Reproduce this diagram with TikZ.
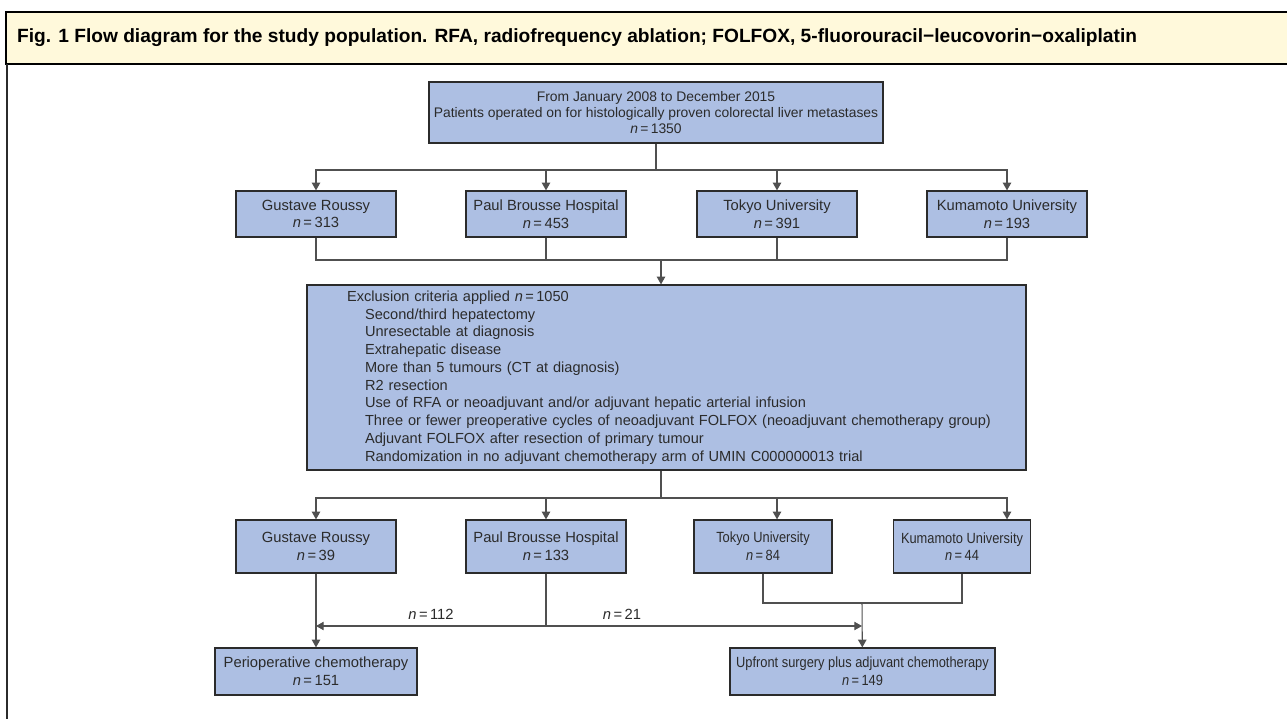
\documentclass[tikz,border=0pt]{standalone}
\usepackage{fontspec}
\setmainfont{Liberation Sans}
\newfontfamily\narrowsans[FakeStretch=0.87]{Liberation Sans}
\usetikzlibrary{arrows.meta}
\definecolor{boxblue}{HTML}{ADBFE3}
\definecolor{capyellow}{HTML}{FFF9DB}
\definecolor{inkgray}{HTML}{2B2B2B}
\definecolor{wiregray}{HTML}{505050}
\newcommand{\nval}[1]{{\itshape n}\,=\,#1}
\newcommand{\lead}{\hspace*{0.8cm}}
\newcommand{\sub}{\hspace*{1.16cm}}
\begin{document}
\begin{tikzpicture}[x=0.02cm,y=-0.02cm,
  box/.style={draw=inkgray, fill=boxblue, line width=0.7pt, text=inkgray, align=center, inner sep=0pt, font=\fontsize{8.4}{10}\selectfont},
  narrow/.style={font=\narrowsans\fontsize{8.4}{10}\selectfont},
  wire/.style={draw=wiregray, line width=0.6pt},
  arr/.style={wire, -{Triangle[length=4.4pt,width=4.8pt]}},
  lbl/.style={text=inkgray, font=\fontsize{8.4}{10}\selectfont}]
\useasboundingbox (0,0) rectangle (1287,719);
\fill[white] (0,0) rectangle (1287,719);
% caption bar and frame
\draw[fill=capyellow, line width=0.8pt] (6,12) rectangle (1300,64);
\draw[line width=1.1pt, draw=inkgray] (7,64) -- (7,719);
\node[anchor=west, font=\fontsize{10.9}{12}\selectfont\bfseries] (cap) at (11,38) {Fig. 1 Flow diagram for the study population. RFA, radiofrequency ablation; FOLFOX, 5-fluorouracil−leucovorin−oxaliplatin};
% boxes
\node[box, minimum width=9.08cm, minimum height=1.22cm, font=\fontsize{7.9}{9.1}\selectfont] (src) at (656,112.5) {From January 2008 to December 2015\\Patients operated on for histologically proven colorectal liver metastases\\\nval{1350}};
\node[box, minimum width=3.2cm, minimum height=0.92cm] (gr1) at (316,214) {Gustave Roussy\\\nval{313}};
\node[box, minimum width=3.2cm, minimum height=0.92cm] (pb1) at (546,214) {Paul Brousse Hospital\\\nval{453}};
\node[box, minimum width=3.2cm, minimum height=0.92cm] (tk1) at (777,214) {Tokyo University\\\nval{391}};
\node[box, minimum width=3.2cm, minimum height=0.92cm] (km1) at (1007,214) {Kumamoto University\\\nval{193}};
\node[box, minimum width=14.38cm, minimum height=3.7cm, align=left, text width=14.38cm, font=\fontsize{8.3}{10.1}\selectfont] (excl) at (666.5,377.5) {\lead Exclusion criteria applied \nval{1050}\\
\sub Second/third hepatectomy\\
\sub Unresectable at diagnosis\\
\sub Extrahepatic disease\\
\sub More than 5 tumours (CT at diagnosis)\\
\sub R2 resection\\
\sub Use of RFA or neoadjuvant and/or adjuvant hepatic arterial infusion\\
\sub Three or fewer preoperative cycles of neoadjuvant FOLFOX (neoadjuvant chemotherapy group)\\
\sub Adjuvant FOLFOX after resection of primary tumour\\
\sub Randomization in no adjuvant chemotherapy arm of UMIN C000000013 trial};
\node[box, minimum width=3.2cm, minimum height=1.06cm] (gr2) at (316,546.5) {Gustave Roussy\\\nval{39}};
\node[box, minimum width=3.2cm, minimum height=1.06cm] (pb2) at (546,546.5) {Paul Brousse Hospital\\\nval{133}};
\node[box, narrow, minimum width=2.76cm, minimum height=1.06cm] (tk2) at (763,546.5) {Tokyo University\\\nval{84}};
\node[box, narrow, minimum width=2.74cm, minimum height=1.06cm] (km2) at (962,546.5) {Kumamoto University\\\nval{44}};
\node[box, minimum width=4.04cm, minimum height=0.94cm] (peri) at (316,671.5) {Perioperative chemotherapy\\\nval{151}};
\node[box, narrow, minimum width=5.3cm, minimum height=0.94cm] (upf) at (862.5,671.5) {Upfront surgery plus adjuvant chemotherapy\\\nval{149}};
% junctions
\coordinate (j0) at (656,170);
\coordinate (j1) at (661,260);
\coordinate (j2) at (661,498);
\coordinate (j3) at (546,626);
\coordinate (l3) at (316,626);
\coordinate (r3) at (862,626);
\coordinate (j4) at (862,603);
% connectors
\draw[wire](src) -- (j0);
\draw[arr](j0) -| (gr1);
\draw[arr](j0) -| (pb1);
\draw[arr](j0) -| (tk1);
\draw[arr](j0) -| (km1);
\draw[wire](gr1) |- (j1);
\draw[wire](pb1) |- (j1);
\draw[wire](tk1) |- (j1);
\draw[wire](km1) |- (j1);
\draw[arr](j1) -- (j1 |- excl.north);
\draw[wire](j2 |- excl.south) -- (j2);
\draw[arr](j2) -| (gr2);
\draw[arr](j2) -| (pb2);
\draw[arr](j2) -| (tk1 |- tk2.north);
\draw[arr](j2) -| (km1 |- km2.north);
\draw[arr](gr2) -- (peri);
\draw[wire](pb2) -- (j3);
\draw[arr](j3) -- (l3);
\draw[arr](j3) -- (r3);
\draw[wire](tk2) |- (j4) -| (km2);
\draw[arr](j4) -- (upf);
\node[lbl] (n112) at (431,614) {\nval{112}};
\node[lbl] (n21) at (622,614) {\nval{21}};
\end{tikzpicture}
\end{document}
